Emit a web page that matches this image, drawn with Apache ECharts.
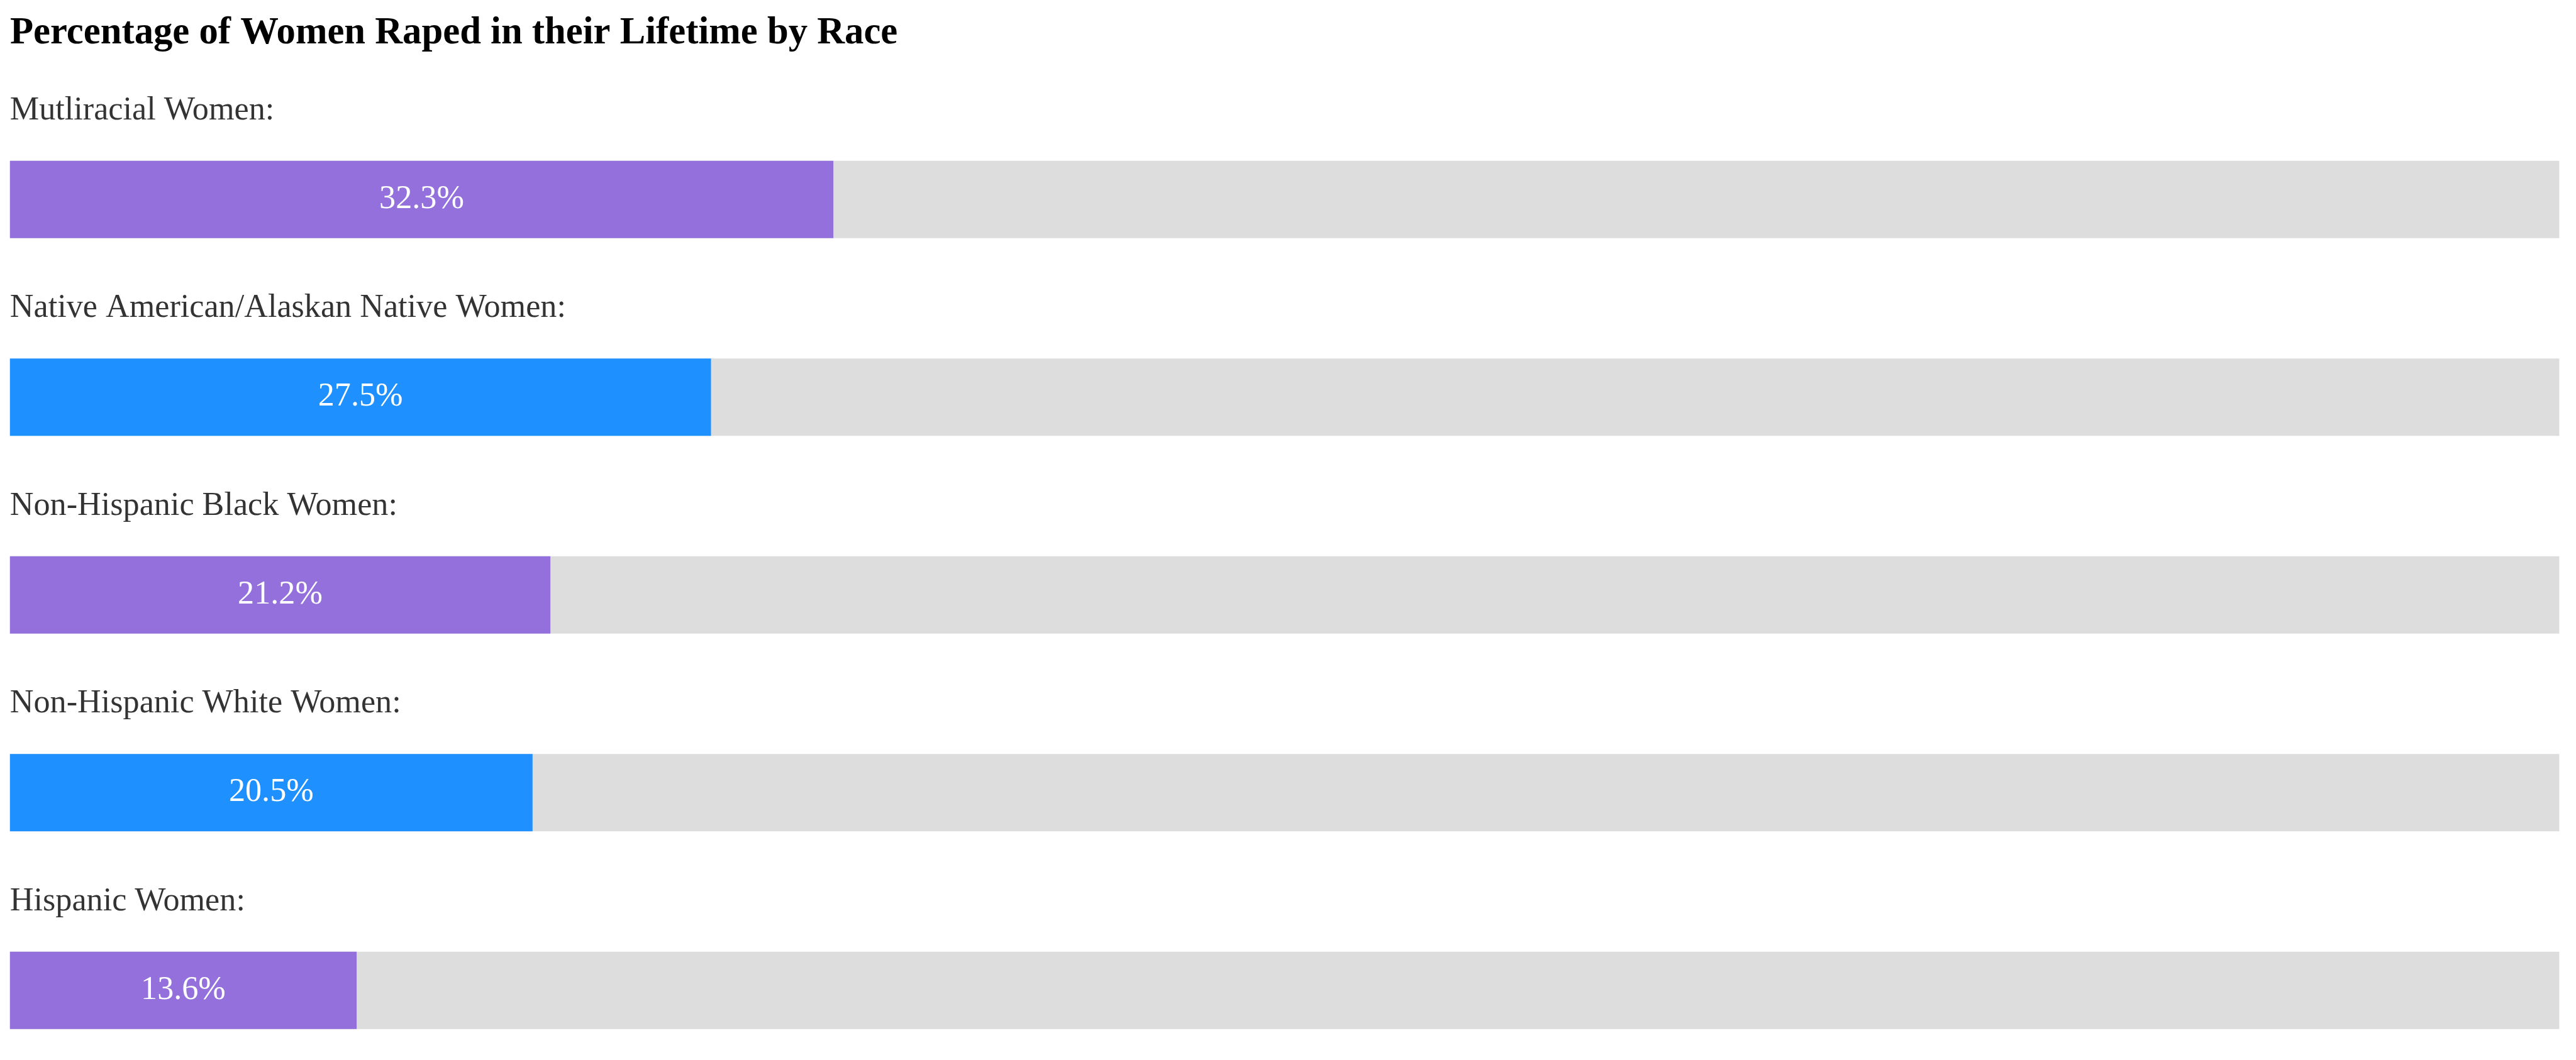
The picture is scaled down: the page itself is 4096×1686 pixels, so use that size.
<!DOCTYPE html>
<html>
<head>
<meta charset="utf-8">
<script src="https://cdn.jsdelivr.net/npm/echarts@6/dist/echarts.min.js"></script>
<style>
html,body{margin:0;padding:0;background:#fff;}
#chart{width:4096px;height:1686px;}
</style>
</head>
<body>
<div id="chart"></div>
<script>
const titleText = 'Percentage of Women Raped in their Lifetime by Race';
const categories = ['Mutliracial Women', 'Native American/Alaskan Native Women', 'Non-Hispanic Black Women', 'Non-Hispanic White Women', 'Hispanic Women'];
const values = [32.3, 27.5, 21.2, 20.5, 13.6];
const barColors = ['#9370DB', '#1E90FF', '#9370DB', '#1E90FF', '#9370DB'];
const axisMax = 100;

const FONT = '"Liberation Serif", "Times New Roman", serif';
const chart = echarts.init(document.getElementById('chart'), null, {renderer: 'canvas'});
chart.setOption({
  backgroundColor: '#ffffff',
  animation: false,
  title: {
    text: titleText,
    left: 16,
    top: 23,
    padding: 0,
    textStyle: {fontFamily: FONT, fontWeight: 'bold', fontSize: 60.7, color: '#000', lineHeight: 60.7}
  },
  grid: {left: 15.8, top: 160, width: 4053.6, height: 1572.5, containLabel: false, outerBoundsMode: 'none'},
  xAxis: {
    type: 'value', min: 0, max: axisMax,
    show: false
  },
  yAxis: {
    type: 'category', inverse: true, data: categories,
    axisLine: {show: false}, axisTick: {show: false}, splitLine: {show: false},
    axisLabel: {show: false}
  },
  series: [{
    type: 'bar',
    data: values.map(function (v, i) { return {value: v, itemStyle: {color: barColors[i]}}; }),
    barWidth: 123.1,
    showBackground: true,
    backgroundStyle: {color: '#DDDDDD'},
    label: {
      show: true, position: 'inside',
      fontFamily: FONT, fontSize: 52.2, color: '#fff',
      formatter: function (p) { return p.value + '%'; }
    }
  }, {
    type: 'scatter',
    data: categories.map(function (c, i) { return [0, c]; }),
    symbolSize: 0,
    silent: true,
    label: {
      show: true, position: 'right', distance: 0,
      offset: [0, -141],
      fontFamily: FONT, fontSize: 52.2, color: '#000',
      align: 'left', verticalAlign: 'middle',
      formatter: function (p) { return categories[p.dataIndex] + ':'; }
    }
  }]
});
</script>
</body>
</html>
